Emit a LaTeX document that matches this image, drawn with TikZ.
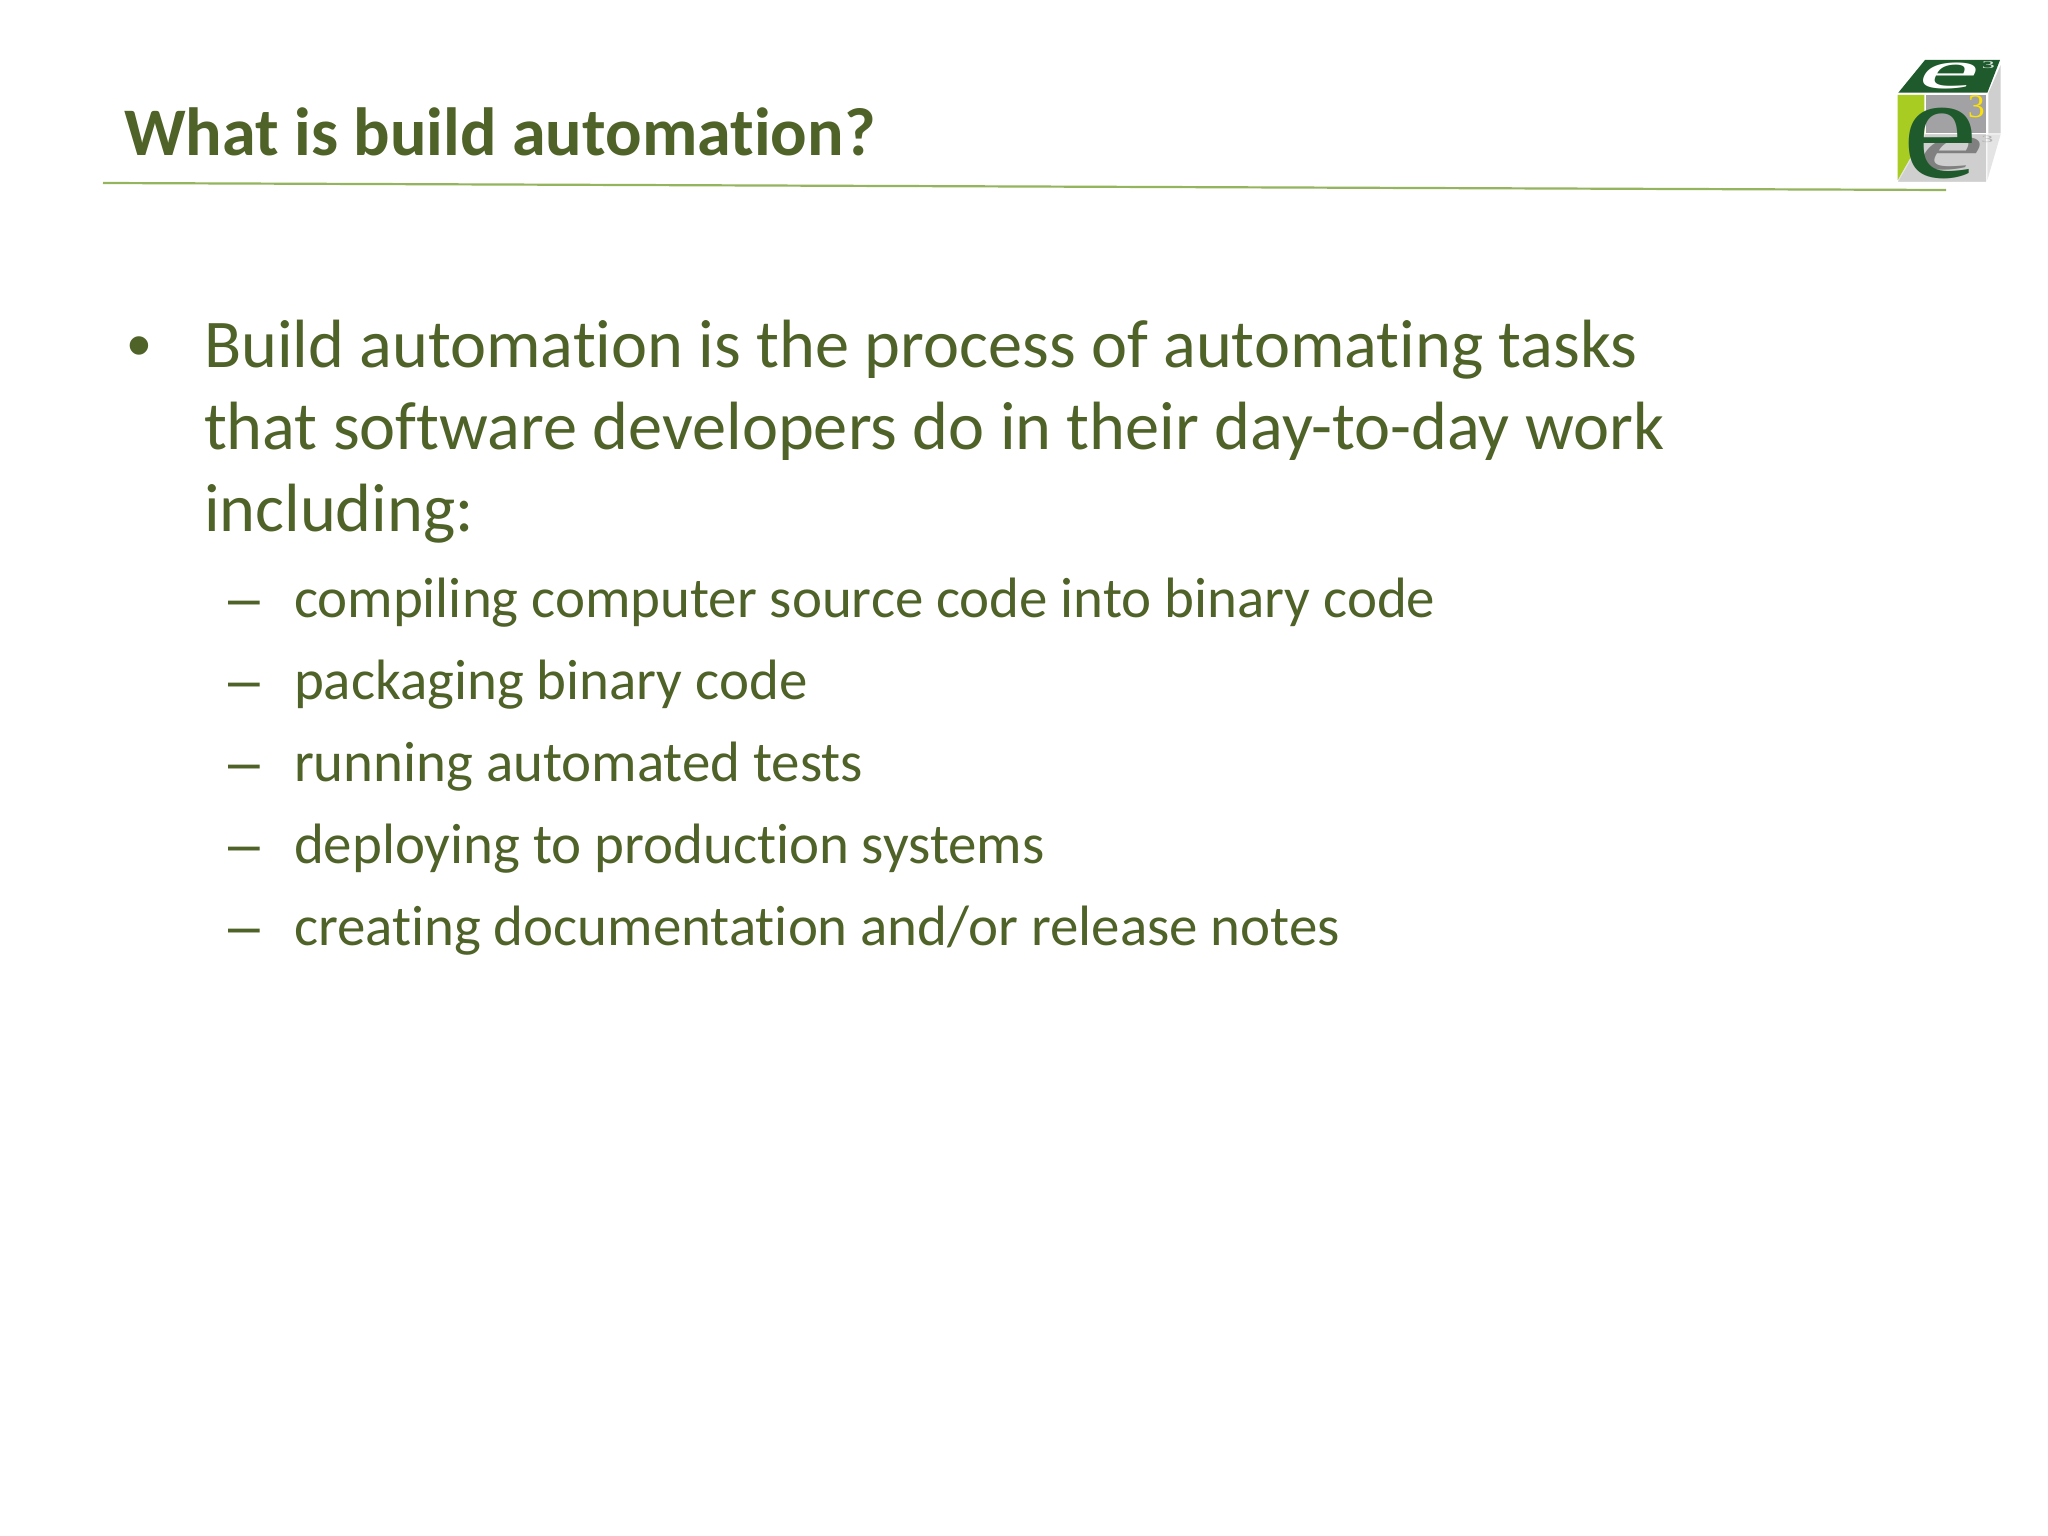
\documentclass[tikz,border=0pt]{standalone}
\usepackage{fontspec}
\setmainfont[Ligatures=CommonOff]{Carlito}
\newfontfamily\logofont{Liberation Serif}
\newfontfamily\markfont{Liberation Sans}
\definecolor{olive}{HTML}{4F6228}
\definecolor{rulegreen}{HTML}{94B45E}
\definecolor{logodark}{HTML}{1F5A2C}
\definecolor{logolime}{HTML}{A9CC22}
\definecolor{logogray}{HTML}{A2A2A4}
\definecolor{logolight}{HTML}{CFCFCF}
\definecolor{logopale}{HTML}{E4E4E4}
\tikzset{
  x=1pt,y=-1pt,
  txt/.style={anchor=base west,inner sep=0pt,outer sep=0pt,text=olive},
  titletxt/.style={txt,font=\fontsize{68.1}{68}\selectfont\bfseries},
  bodytxt/.style={txt,font=\fontsize{68.3}{68}\selectfont},
  subtxt/.style={txt,font=\fontsize{56.9}{57}\selectfont},
  bulletmark/.style={txt,font=\markfont\fontsize{68}{68}\selectfont},
  dashmark/.style={txt,font=\markfont\fontsize{57}{57}\selectfont},
  logoe/.style={inner sep=0pt,outer sep=0pt,font=\logofont\fontsize{100}{100}\selectfont}
}
\begin{document}
\begin{tikzpicture}
\useasboundingbox (0,0) rectangle (2048,1536);
\fill[white] (0,0) rectangle (2048,1536);
% title and rule
\node[titletxt] (title) at (124,156) {What is build automation?};
\coordinate (ruleL) at (103,183);
\coordinate (ruleR) at (1946,190);
\draw[rulegreen,line width=2.2pt] (ruleL) -- (ruleR);
% body
\node[bulletmark] (b0) at (127,368) {•};
\node[bodytxt] (b1) at (204,367) {Build automation is the process of automating tasks};
\node[bodytxt] (b2) at (204,449) {that software developers do in their day-to-day work};
\node[bodytxt] (b3) at (204,531) {including:};
\foreach \n/\y/\t in {1/617/{compiling computer source code into binary code},
                      2/699/{packaging binary code},
                      3/781/{running automated tests},
                      4/863/{deploying to production systems},
                      5/945/{creating documentation and/or release notes}}{
  \node[dashmark] (d\n) at (228,\y) {–};
  \node[subtxt] (s\n) at (294,\y) {\t};
}
% logo: coordinates are those of the enlarged crop
\begin{scope}[shift={(1860,40)},x=0.3333pt,y=-0.3333pt]
  \fill[logopale] (115,283) -- (378,283) -- (378,425) -- (115,425) -- cycle;
  \fill[logolight] (115,425) -- (197,283) -- (378,283) -- (378,425) -- cycle;
  \fill[logopale] (382,283) -- (422,283) -- (382,420) -- cycle;
  \fill[logogray] (197,165) rectangle (378,280);
  \fill[logolight] (385,160) -- (422,75) -- (422,280) -- (385,280) -- cycle;
  \fill[logolime] (113,165) -- (193,165) -- (193,280) -- (113,420) -- cycle;
  \fill[logodark] (195,60) -- (420,60) -- (382,158) -- (115,158) -- cycle;
  \node[logoe,text=white,xscale=1.4,yscale=0.57,xslant=0.2] (ewhite) at (268,108) {\fontsize{95}{95}\selectfont e};
  \node[logoe,text=logodark!15!white,xscale=2,yscale=0.8] (e3top) at (385,75) {\fontsize{13}{13}\selectfont 3};
  \node[logoe,text=black!50,xscale=1.45,yscale=0.72,xslant=0.3] (egray) at (272,342) {\fontsize{95}{95}\selectfont e};
  \node[logoe,text=logodark,xscale=1.1,yscale=0.95] (ebig) at (240,312) {\fontsize{155}{155}\selectfont e};
  \node[logoe,text=yellow!85!orange] (e3) at (349,200) {\fontsize{33}{33}\selectfont 3};
  \node[logoe,text=gray!60,xscale=2,yscale=0.8] (e3low) at (382,298) {\fontsize{12}{12}\selectfont 3};
\end{scope}
\end{tikzpicture}
\end{document}
